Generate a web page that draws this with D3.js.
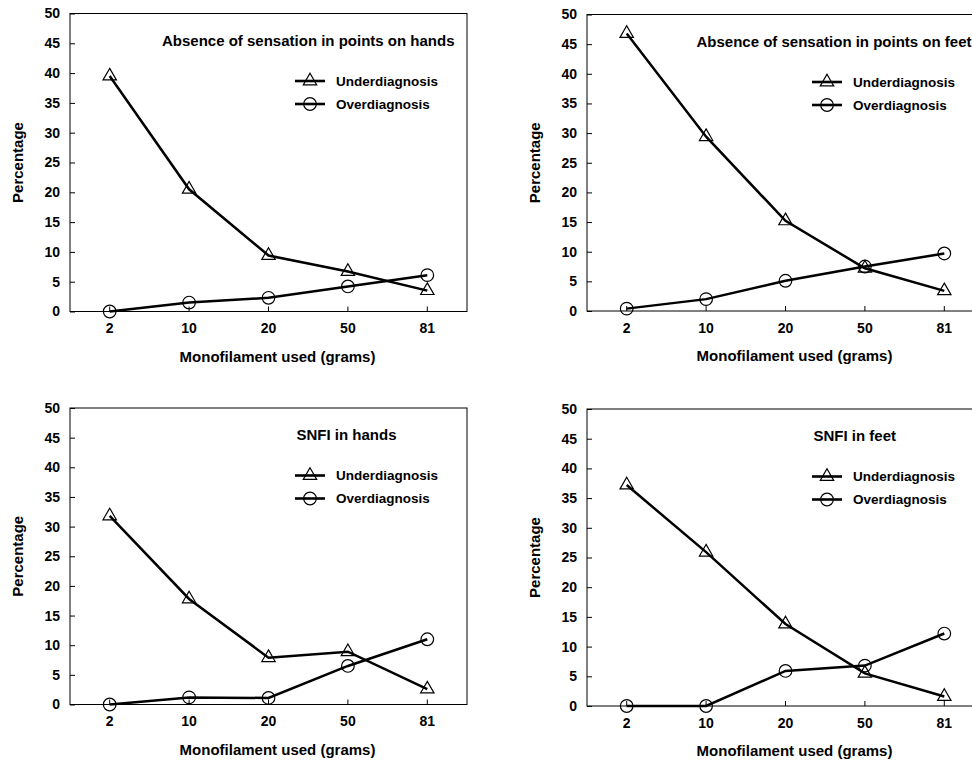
<!DOCTYPE html>
<html>
<head>
<meta charset="utf-8">
<script src="https://cdn.jsdelivr.net/npm/d3@7"></script>
<style>
  body { margin: 0; background: #fff; }
  svg { display: block; font-family: Arial, "Liberation Sans", sans-serif; }
</style>
</head>
<body>
<svg id="chart" width="972" height="761"></svg>
<script>
// categories & ticks
const categories = ["2", "10", "20", "50", "81"];
const yTicks = [0, 5, 10, 15, 20, 25, 30, 35, 40, 45, 50];
const seriesNames = ["Underdiagnosis", "Overdiagnosis"];

// values
const handsAbsUnder = [39.5, 20.5, 9.4, 6.7, 3.5];
const handsAbsOver = [0, 1.5, 2.3, 4.2, 6.1];
const feetAbsUnder = [46.8, 29.4, 15.2, 7.2, 3.4];
const feetAbsOver = [0.4, 2.0, 5.1, 7.5, 9.7];
const handsSnfiUnder = [31.8, 17.8, 7.9, 8.9, 2.6];
const handsSnfiOver = [0, 1.2, 1.1, 6.5, 11.0];
const feetSnfiUnder = [37.2, 25.9, 13.8, 5.5, 1.6];
const feetSnfiOver = [0, 0, 5.9, 6.8, 12.2];

const titles = [
    "Absence of sensation in points on hands",
    "Absence of sensation in points on feet",
    "SNFI in hands",
    "SNFI in feet"
];

// panel layout
var panels = [
    { left: 70, top: 13.5, w: 397, h: 298, titleX: 92, title: titles[0], under: handsAbsUnder, over: handsAbsOver },
    { left: 587, top: 14.5, w: 397, h: 296.5, titleX: 109.5, title: titles[1], under: feetAbsUnder, over: feetAbsOver },
    { left: 70, top: 408, w: 397, h: 296.5, titleX: 226.5, title: titles[2], under: handsSnfiUnder, over: handsSnfiOver },
    { left: 587, top: 409, w: 397, h: 297, titleX: 226.5, title: titles[3], under: feetSnfiUnder, over: feetSnfiOver }
];

var svg = d3.select("#chart");

var triangle = d3.symbol().type(d3.symbolTriangle).size(78);

function drawMarker(sel, kind) {
    if (kind === 0) {
        sel.append("path").attr("d", triangle);
    } else {
        sel.append("circle").attr("r", 6.3);
    }
}

panels.forEach(function (p) {
    var g = svg.append("g").attr("transform", "translate(" + p.left + "," + p.top + ")");

    var x = d3.scaleBand().domain(categories).range([0, p.w]).padding(0);
    var y = d3.scaleLinear().domain([0, 50]).range([p.h, 0]);

    // frame
    g.append("rect")
        .attr("x", 0).attr("y", 0)
        .attr("width", p.w).attr("height", p.h)
        .attr("fill", "none")
        .attr("stroke", "#000")
        .attr("stroke-width", 1);

    // y axis, ticks pointing inward
    var yAxis = g.append("g")
        .call(d3.axisLeft(y).tickValues(yTicks).tickSize(-5).tickPadding(10));
    yAxis.select(".domain").remove();
    yAxis.selectAll("text").attr("font-size", 14).attr("font-weight", "bold").attr("fill", "#000");

    // x axis, ticks pointing inward
    var xAxis = g.append("g")
        .attr("transform", "translate(0," + p.h + ")")
        .call(d3.axisBottom(x).tickSize(-5).tickPadding(12));
    xAxis.select(".domain").remove();
    xAxis.selectAll("text").attr("font-size", 14).attr("font-weight", "bold").attr("fill", "#000");

    // axis titles
    g.append("text")
        .attr("transform", "translate(-52," + (p.h / 2) + ") rotate(-90)")
        .attr("text-anchor", "middle")
        .attr("dy", "0.35em")
        .attr("font-size", 15).attr("font-weight", "bold")
        .text("Percentage");

    g.append("text")
        .attr("x", p.w / 2 + 9)
        .attr("y", p.h + 50)
        .attr("text-anchor", "middle")
        .attr("font-size", 15).attr("font-weight", "bold")
        .text("Monofilament used (grams)");

    // panel title
    g.append("text")
        .attr("x", p.titleX)
        .attr("y", 32)
        .attr("font-size", 15).attr("font-weight", "bold")
        .text(p.title);

    var line = d3.line()
        .x(function (d, i) { return x(categories[i]) + x.bandwidth() / 2; })
        .y(function (d) { return y(d); });

    [p.under, p.over].forEach(function (vals, k) {
        g.append("path")
            .datum(vals)
            .attr("d", line)
            .attr("fill", "none")
            .attr("stroke", "#000")
            .attr("stroke-width", 2.5);

        var m = g.selectAll(".m" + k)
            .data(vals)
            .enter()
            .append("g")
            .attr("class", "m" + k)
            .attr("transform", function (d, i) {
                return "translate(" + (x(categories[i]) + x.bandwidth() / 2) + "," + y(d) + ")";
            })
            .attr("fill", "none")
            .attr("stroke", "#000")
            .attr("stroke-width", 1.2);
        m.each(function () { drawMarker(d3.select(this), k); });
    });

    // legend
    var leg = g.append("g").attr("transform", "translate(225,67.5)");
    seriesNames.forEach(function (name, k) {
        var row = leg.append("g").attr("transform", "translate(0," + (k * 23) + ")");
        row.append("line")
            .attr("x1", 0).attr("x2", 30)
            .attr("stroke", "#000").attr("stroke-width", 2.6);
        var mk = row.append("g")
            .attr("transform", "translate(15,0)")
            .attr("fill", "none").attr("stroke", "#000").attr("stroke-width", 1.2);
        drawMarker(mk, k);
        row.append("text")
            .attr("x", 41)
            .attr("dy", "0.35em")
            .attr("font-size", 13.5).attr("font-weight", "bold")
            .text(name);
    });
});
</script>
</body>
</html>
